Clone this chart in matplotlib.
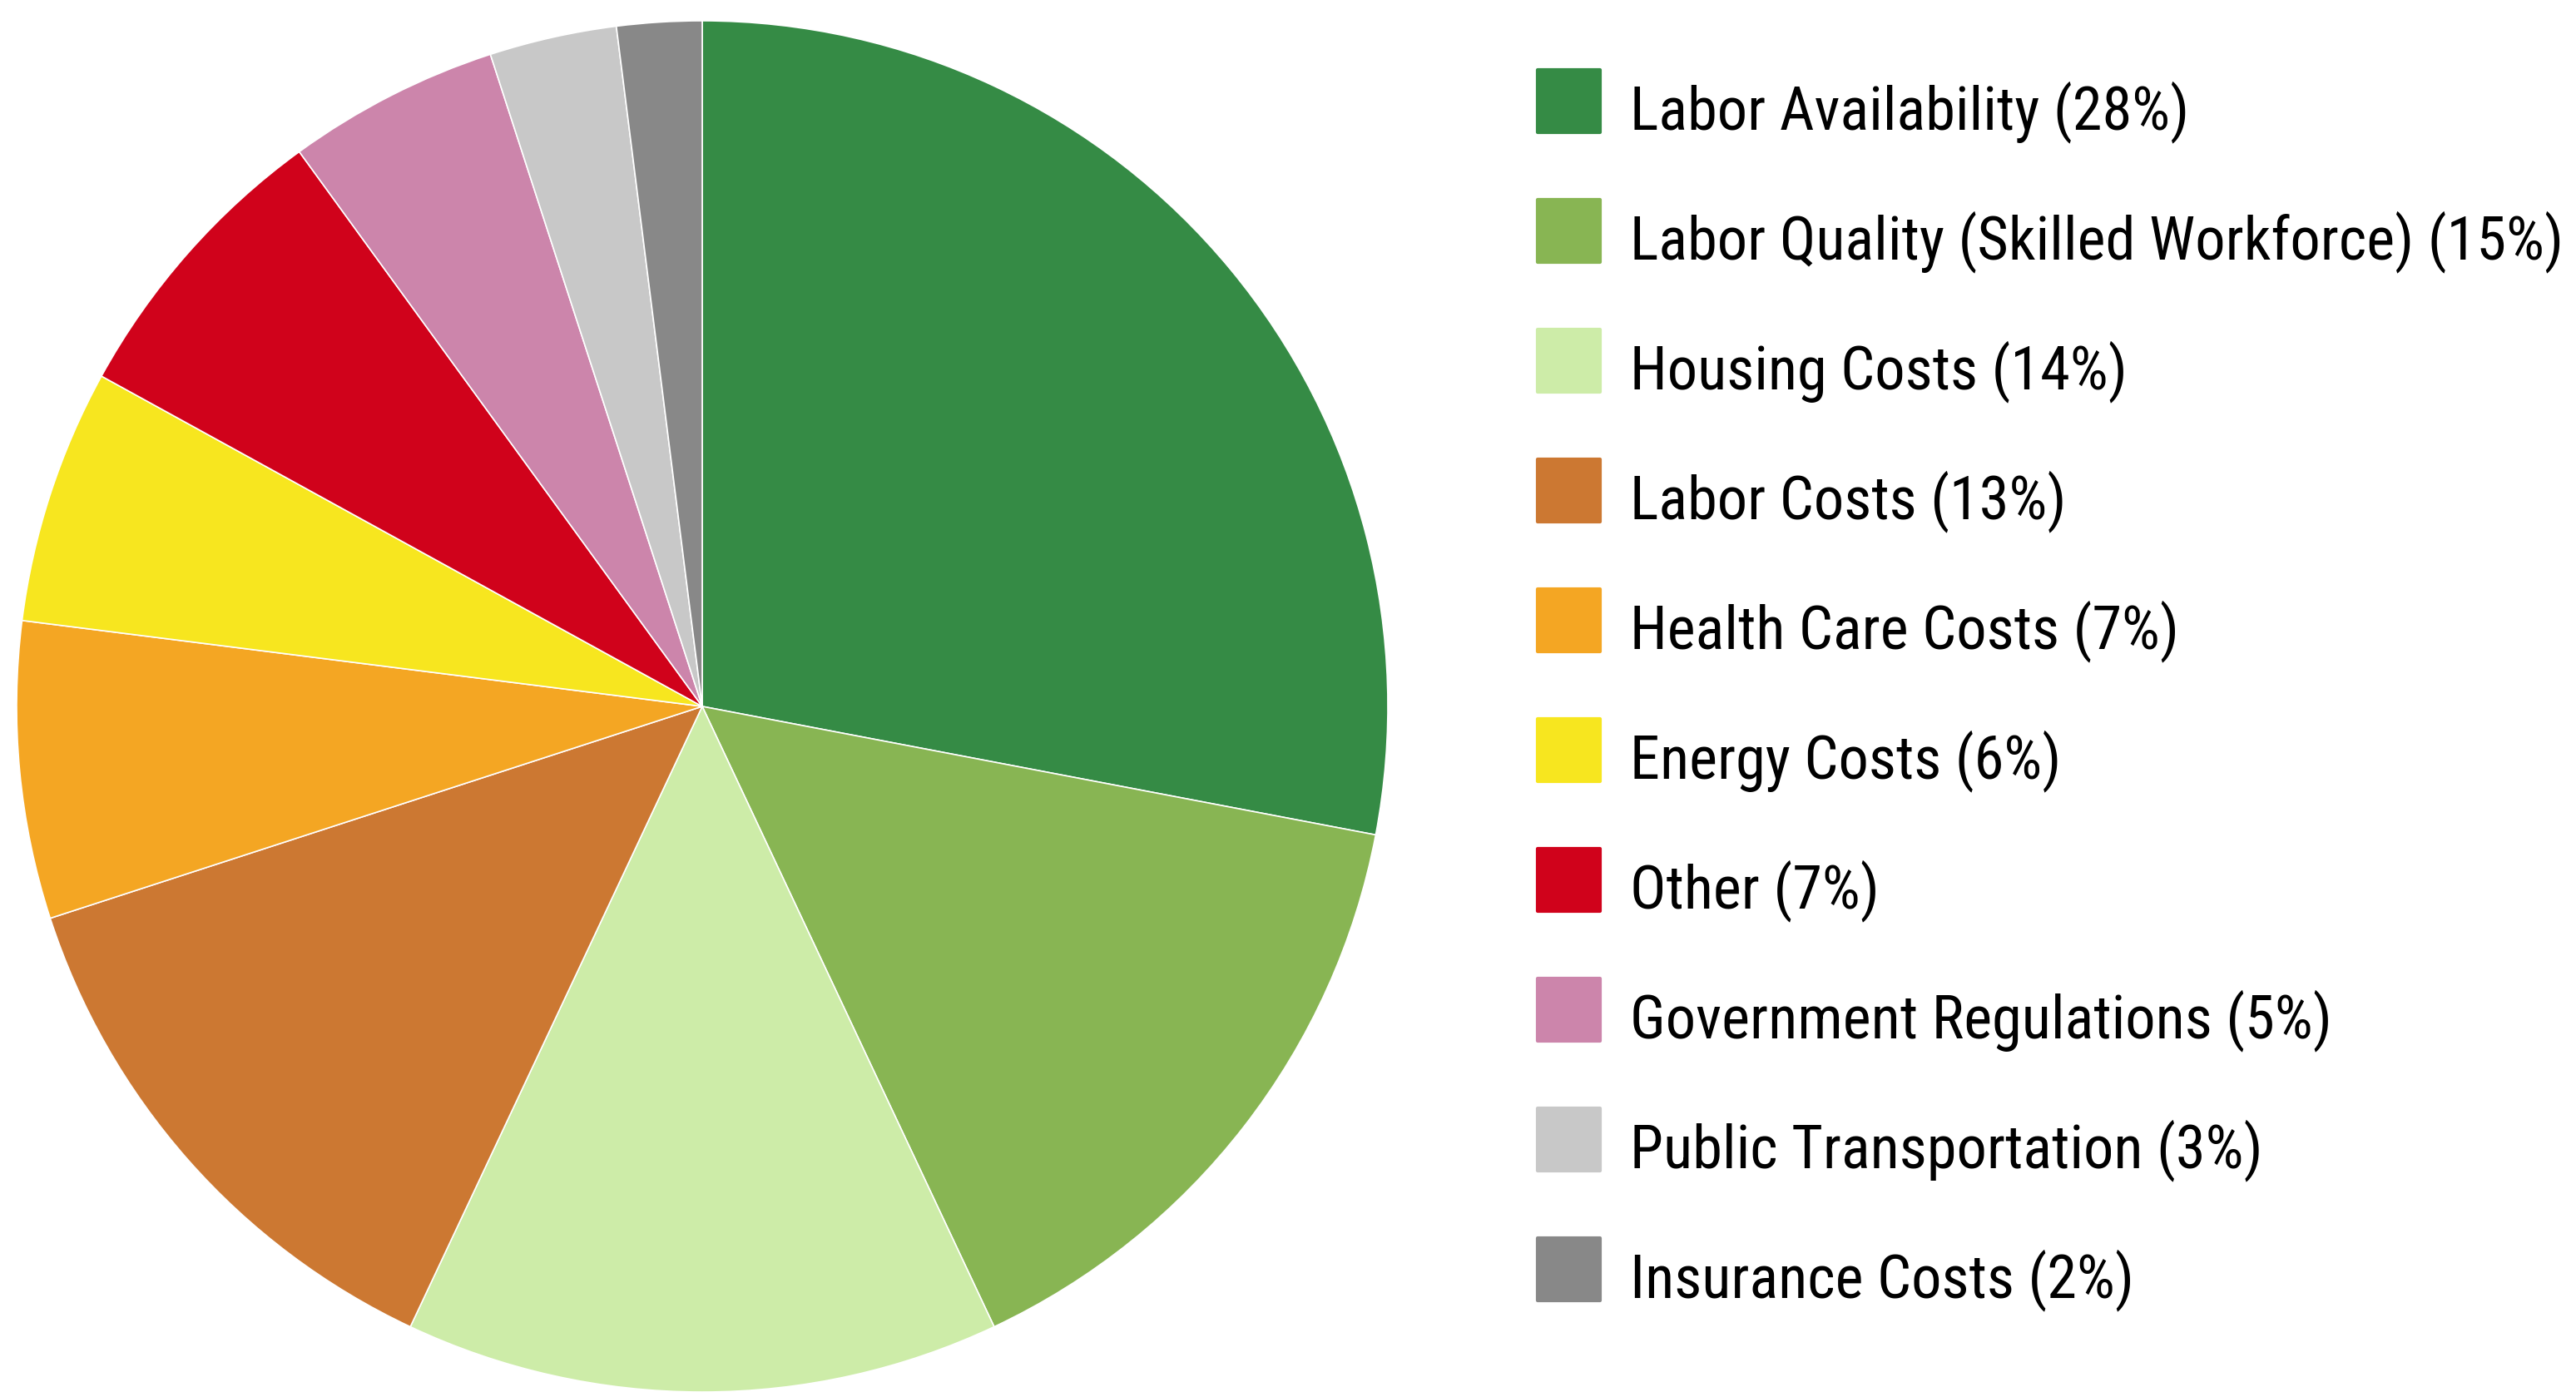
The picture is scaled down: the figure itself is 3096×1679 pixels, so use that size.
import matplotlib
matplotlib.use('Agg')
import matplotlib.pyplot as plt
from matplotlib import font_manager
from matplotlib.patches import Rectangle
from matplotlib.patheffects import AbstractPathEffect
from matplotlib.transforms import Affine2D

labels = ['Labor Availability', 'Labor Quality (Skilled Workforce)', 'Housing Costs',
          'Labor Costs', 'Health Care Costs', 'Energy Costs', 'Other',
          'Government Regulations', 'Public Transportation', 'Insurance Costs']
shares = [28, 15, 14, 13, 7, 6, 7, 5, 3, 2]
colors = ['#358b45', '#88b553', '#cdeca8', '#cc7832', '#f4a623', '#f7e61f',
          '#d0021b', '#cc85ab', '#c8c8c8', '#888888']


# squeeze text horizontally (only used if no narrow font is around)
class Squeeze(AbstractPathEffect):
    def __init__(self, x0, sx):
        super().__init__()
        self.x0 = x0
        self.sx = sx

    def draw_path(self, renderer, gc, tpath, affine, rgbFace=None):
        aff = affine + Affine2D().translate(-self.x0, 0).scale(self.sx, 1).translate(self.x0, 0)
        renderer.draw_path(gc, tpath, aff, rgbFace)


# look for a narrow font first
have = {f.name for f in font_manager.fontManager.ttflist}
narrow = [n for n in ['Roboto Condensed', 'Liberation Sans Narrow', 'Open Sans Condensed',
                      'DejaVu Sans Condensed'] if n in have]
fam = narrow[0] if narrow else 'DejaVu Sans'

W, H = 3096, 1679
fig = plt.figure(figsize=(W / 100, H / 100), dpi=100)

# pie: centre (844, 849) px, radius 824 px
cx, cy, r = 844, 849, 824
ax = fig.add_axes([(cx - r) / W, (H - cy - r) / H, 2 * r / W, 2 * r / H])
ax.pie(shares, colors=colors, startangle=90, counterclock=False, radius=1,
       wedgeprops=dict(edgecolor='white', linewidth=1.2))
ax.set_xlim(-1, 1)
ax.set_ylim(-1, 1)
ax.set_aspect('equal')
ax.axis('off')

# legend drawn by hand
tx = 1959
texts = []
for i, (lab, s, c) in enumerate(zip(labels, shares, colors)):
    yc = 122 + 156 * i
    fig.patches.append(Rectangle((1848 / W, (H - yc - 37) / H), 75 / W, 75 / H,
                                 transform=fig.transFigure, facecolor=c,
                                 edgecolor=c, linewidth=3, joinstyle='round'))
    t = fig.text(tx / W, (H - yc - 33) / H, f'{lab} ({s}%)', family=fam,
                 fontstretch='condensed', fontsize=54, va='baseline', ha='left')
    texts.append(t)

fig.canvas.draw()
ren = fig.canvas.get_renderer()
widest = max(t.get_window_extent(ren).width for t in texts)
if widest > 1122:
    if fam == 'DejaVu Sans':
        for t in texts:
            t.set_path_effects([Squeeze(tx, 1122 / widest)])
    else:
        for t in texts:
            t.set_fontsize(54 * 1122 / widest)

fig.savefig('out.png', dpi=100, facecolor='white')
